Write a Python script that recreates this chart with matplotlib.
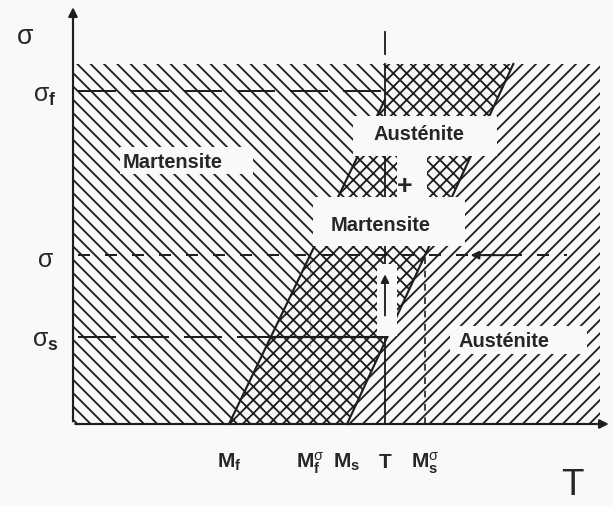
import numpy as np
import matplotlib
matplotlib.use("Agg")
import matplotlib.pyplot as plt
from matplotlib.patches import Rectangle

plt.rcParams['font.family'] = ['Liberation Sans', 'DejaVu Sans']
plt.rcParams['mathtext.fontset'] = 'custom'
plt.rcParams['mathtext.rm'] = 'Liberation Sans'
plt.rcParams['mathtext.bf'] = 'Liberation Sans:bold'
plt.rcParams['mathtext.it'] = 'Liberation Sans'
plt.rcParams['hatch.linewidth'] = 1.1

# temperatures on the T axis (arbitrary units)
temp_names = ['Mf', 'Mf_sig', 'Ms', 'T', 'Ms_sig']
temp_values = [2.96, 4.50, 5.20, 5.92, 6.68]
temp_labels = [r'$\mathbf{M}_{\mathbf{f}}$', r'$\mathbf{M}_{\mathbf{f}}^{\sigma}$',
               r'$\mathbf{M}_{\mathbf{s}}$', r'$\mathbf{T}$', r'$\mathbf{M}_{\mathbf{s}}^{\sigma}$']

# stress levels on the sigma axis
stress_names = ['sig_s', 'sig', 'sig_f']
stress_values = [2.42, 4.69, 9.25]
stress_labels = [r'$\sigma_{\mathbf{s}}$', r'$\sigma$', r'$\sigma_{\mathbf{f}}$']

t_max = 10.0      # right end of hatched area
s_max = 10.0      # top of hatched area

Mf, Mfs, Ms, T, Mss = temp_values
s_s, s_m, s_f = stress_values

ink = '#1e1e1e'
paper = '#f9f9f9'

# band edges (left: Mf -> Mf_sigma, right: Ms -> Ms_sigma)
kL = (Mfs - Mf) / s_m
kR = (Mss - Ms) / s_m
xL = lambda s: Mf + kL * s
xR = lambda s: Ms + kR * s
s_cross = (T - Mf) / kL

fig = plt.figure(figsize=(613 / 120, 507 / 120), dpi=120, facecolor=paper)
ax = fig.add_axes([0, 0, 1, 1])
ax.set_facecolor(paper)
ax.set_xlim(-73 / 52.7, (613 - 73) / 52.7)
ax.set_ylim(-82 / 36.0, 425 / 36.0)
ax.axis('off')

# regions
mart_x = [0, Mf, T, T, 0]
mart_y = [0, 0, s_cross, s_max, s_max]
ax.fill(mart_x, mart_y, facecolor='none', edgecolor=ink, hatch='\\\\\\', lw=0, zorder=1)

mix_x = [Mf, Ms, xR(s_max), T, T]
mix_y = [0, 0, s_max, s_max, s_cross]
ax.fill(mix_x, mix_y, facecolor='none', edgecolor=ink, hatch='xxx', lw=0, zorder=1)

aus_x = [Ms, t_max, t_max, xR(s_max)]
aus_y = [0, 0, s_max, s_max]
ax.fill(aus_x, aus_y, facecolor='none', edgecolor=ink, hatch='///', lw=0, zorder=1)

# band edges
ax.plot([Mf, xL(s_cross)], [0, s_cross], color=ink, lw=1.3, zorder=2)
ax.plot([Ms, xR(s_max)], [0, s_max], color=ink, lw=1.3, zorder=2)
ax.plot([T, T], [0, s_max], color=ink, lw=1.1, zorder=2)
ax.plot([T, T], [s_max + 0.28, s_max + 0.89], color=ink, lw=1.1, zorder=2)

# stress levels
ax.plot([0.1, T], [s_f, s_f], color=ink, lw=1.2, ls=(0, (19, 7.5)), zorder=2)
ax.plot([0.1, xL(s_s)], [s_s, s_s], color=ink, lw=1.2, ls=(0, (19, 7.5)), zorder=2)
ax.plot([xL(s_s), xR(s_s)], [s_s, s_s], color=ink, lw=1.3, zorder=2)
ax.plot([0.1, 9.37], [s_m, s_m], color=ink, lw=1.2, ls=(0, (6, 7.5)), zorder=2)
ax.annotate('', xy=(7.48, s_m), xytext=(8.35, s_m),
            arrowprops=dict(arrowstyle='-|>', color=ink, lw=1.2, mutation_scale=10), zorder=5)

# vertical guides
ax.plot([Mss, Mss], [0, s_m], color=ink, lw=1.0, ls=(0, (4, 4)), zorder=2)
ax.plot([Mfs, Mfs], [0, s_m], color=ink, lw=0.6, ls=(0, (3, 3)), alpha=0.35, zorder=2)

# white label boxes
boxes = [(0.89, 6.94, 2.53, 0.75), (5.31, 7.44, 2.74, 1.12), (6.15, 6.31, 0.57, 1.13),
         (4.56, 4.94, 2.88, 1.37), (7.15, 1.94, 2.60, 0.78), (5.77, 2.44, 0.38, 2.00)]
for bx, by, bw, bh in boxes:
    ax.add_patch(Rectangle((bx, by), bw, bh, facecolor=paper, edgecolor='none', zorder=3))

# upward arrow at T
ax.annotate('', xy=(T, 4.25), xytext=(T, 2.92),
            arrowprops=dict(arrowstyle='-|>', color=ink, lw=1.1, mutation_scale=10), zorder=5)

lab = dict(fontsize=12, fontweight='bold', color='#262626', ha='center', va='center', zorder=4)
ax.text(1.88, 7.28, 'Martensite', **lab)
ax.text(6.57, 8.06, 'Austénite', **lab)
ax.text(6.30, 6.61, '+', fontsize=16, fontweight='bold', color='#262626', ha='center', va='center', zorder=4)
ax.text(5.84, 5.53, 'Martensite', **lab)
ax.text(8.18, 2.31, 'Austénite', **lab)

# axes with arrows
ax.annotate('', xy=(0, 11.67), xytext=(0, -0.02),
            arrowprops=dict(arrowstyle='-|>', color=ink, lw=1.3, mutation_scale=11), zorder=5)
ax.annotate('', xy=(10.23, 0), xytext=(-0.02, 0),
            arrowprops=dict(arrowstyle='-|>', color=ink, lw=1.3, mutation_scale=11), zorder=5)

# tick labels
for xv, tl in zip(temp_values, temp_labels):
    ax.text(xv, -1.05, tl, fontsize=12.5, color='#262626', ha='center', va='center')
for sv, sl in zip(stress_values, stress_labels):
    ax.text(-0.53, sv - 0.1, sl, fontsize=15, color='#262626', ha='center', va='center')

ax.text(-0.91, 10.78, r'$\sigma$', fontsize=16, color='#262626', ha='center', va='center')
ax.text(9.47, -1.67, 'T', fontsize=22, color='#262626', ha='center', va='center')

fig.savefig('out.png', dpi=120, facecolor=paper)
